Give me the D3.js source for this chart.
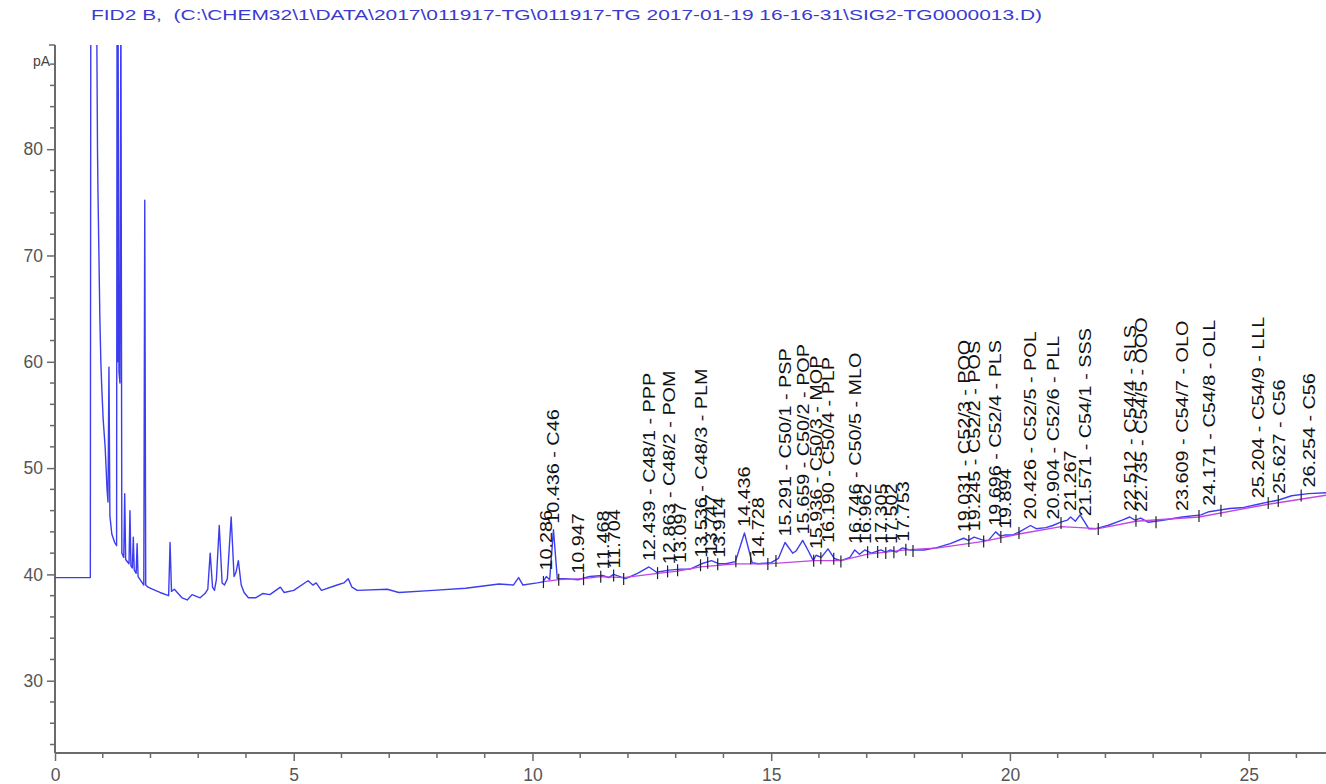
<!DOCTYPE html>
<html>
<head>
<meta charset="utf-8">
<script src="https://cdn.jsdelivr.net/npm/d3@7"></script>
<style>
  body { margin: 0; background: #fff; }
  svg { display: block; }
  text { font-family: "Liberation Sans", Arial, sans-serif; }
</style>
</head>
<body>
<svg id="chart" width="1326" height="784"></svg>
<script>
// FID2 B signal trace: retention time (min) and detector response (pA)
const traceTime = [
  0.00, 0.74, 0.75, 0.87, 0.89, 0.90, 0.92, 0.94, 0.96, 0.98,
  1.01, 1.05, 1.09, 1.11, 1.13, 1.15, 1.19, 1.25, 1.29, 1.30,
  1.31, 1.32, 1.34, 1.36, 1.38, 1.40, 1.44, 1.46, 1.48, 1.55,
  1.57, 1.59, 1.62, 1.64, 1.66, 1.70, 1.72, 1.74, 1.80, 1.86,
  1.88, 1.90, 1.95, 2.05, 2.20, 2.38, 2.41, 2.44, 2.50, 2.66,
  2.77, 2.87, 3.04, 3.14, 3.20, 3.25, 3.30, 3.34, 3.38, 3.44,
  3.50, 3.55, 3.61, 3.69, 3.75, 3.79, 3.84, 3.90, 3.96, 4.05,
  4.20, 4.35, 4.50, 4.72, 4.80, 5.00, 5.30, 5.40, 5.47, 5.58,
  5.91, 6.05, 6.14, 6.22, 6.33, 6.96, 7.20, 7.92, 8.60, 9.30,
  9.60, 9.71, 9.80, 10.10, 10.22, 10.29, 10.36, 10.44, 10.52, 10.70,
  10.95, 11.20, 11.47, 11.60, 11.70, 11.95, 12.20, 12.44, 12.60, 12.86,
  13.10, 13.30, 13.54, 13.75, 13.91, 14.05, 14.25, 14.44, 14.60, 14.73,
  15.00, 15.15, 15.29, 15.45, 15.52, 15.66, 15.78, 15.88, 15.94, 16.05,
  16.19, 16.32, 16.46, 16.65, 16.75, 16.85, 16.96, 17.10, 17.30, 17.40,
  17.50, 17.62, 17.75, 17.90, 18.20, 18.45, 18.75, 19.03, 19.13, 19.25,
  19.45, 19.55, 19.70, 19.80, 19.89, 20.05, 20.20, 20.43, 20.55, 20.75,
  20.90, 21.05, 21.20, 21.27, 21.37, 21.47, 21.57, 21.65, 21.80, 22.05,
  22.35, 22.51, 22.62, 22.74, 22.90, 23.20, 23.61, 24.00, 24.17, 24.60,
  24.90, 25.20, 25.40, 25.63, 25.90, 26.25, 26.70
];
const traceSignal = [
  39.7, 39.7, 95.0, 95.0, 80.0, 76.0, 70.0, 64.0, 60.0, 57.5,
  54.5, 52.0, 48.0, 46.8, 59.5, 45.5, 43.8, 43.0, 42.7, 95.0,
  60.0, 95.0, 59.0, 58.0, 95.0, 42.0, 41.6, 47.6, 41.4, 41.0,
  46.0, 40.8, 40.6, 43.5, 40.4, 40.1, 42.9, 39.8, 39.4, 39.0,
  75.2, 39.0, 38.8, 38.6, 38.3, 38.0, 43.0, 38.4, 38.6, 37.8,
  37.6, 38.1, 37.8, 38.2, 38.6, 42.0, 38.8, 38.5, 39.5, 44.6,
  39.2, 39.0, 39.6, 45.4, 39.8, 40.2, 41.3, 39.0, 38.3, 37.8,
  37.8, 38.2, 38.1, 38.8, 38.3, 38.5, 39.4, 39.0, 39.2, 38.5,
  39.0, 39.2, 39.6, 38.8, 38.5, 38.6, 38.3, 38.5, 38.7, 39.1,
  39.0, 39.7, 39.0, 39.2, 39.3, 39.8, 39.5, 44.2, 39.6, 39.6,
  39.5, 39.8, 39.9, 39.7, 40.0, 39.6, 40.1, 40.7, 40.2, 40.4,
  40.5, 40.5, 41.0, 41.3, 41.0, 41.0, 41.2, 43.9, 41.1, 41.0,
  41.1, 41.5, 43.0, 42.0, 42.2, 43.2, 42.2, 41.3, 41.8, 41.6,
  42.4, 41.5, 41.3, 41.6, 42.3, 41.9, 42.3, 42.0, 42.3, 42.1,
  42.3, 42.1, 42.5, 42.3, 42.3, 42.5, 42.9, 43.4, 43.2, 43.5,
  43.2, 43.2, 44.0, 43.6, 43.7, 43.7, 44.0, 44.6, 44.3, 44.4,
  44.6, 44.9, 45.1, 45.4, 45.0, 45.6, 44.9, 44.3, 44.3, 44.6,
  45.1, 45.4, 45.1, 45.3, 44.9, 45.1, 45.4, 45.6, 45.9, 46.2,
  46.3, 46.6, 46.8, 47.0, 47.4, 47.6, 47.7
];

// Integration baseline
const baselineTime   = [10.20, 10.55, 11.07, 11.43, 11.91, 12.62, 13.04, 13.52, 14.26, 14.93, 15.89, 16.46,
                        17.02, 17.82, 18.50, 19.45, 20.19, 21.07, 21.85, 22.64, 23.96, 25.41, 26.70];
const baselineSignal = [39.3, 39.5, 39.6, 39.8, 39.7, 40.1, 40.3, 40.7, 41.0, 41.0, 41.3, 41.3,
                        41.9, 42.3, 42.5, 43.1, 43.8, 44.5, 44.3, 45.0, 45.4, 46.6, 47.5];

// Peak start/stop markers
const boundaryTimes = [10.23, 10.55, 11.07, 11.43, 11.70, 11.91, 12.62, 12.83, 13.04, 13.52, 13.67, 13.88,
                       14.26, 14.57, 14.93, 15.10, 15.89, 16.04, 16.31, 16.46, 17.02, 17.23, 17.40, 17.57,
                       17.82, 17.97, 19.14, 19.45, 19.81, 20.19, 21.07, 21.85, 22.64, 23.06, 23.96, 24.42,
                       25.41, 25.62, 26.10];

// Identified peaks
const peakTimes = [10.286, 10.436, 10.947, 11.468, 11.704, 12.439, 12.863, 13.097, 13.536, 13.747,
                   13.914, 14.436, 14.728, 15.291, 15.659, 15.936, 16.190, 16.746, 16.962, 17.305,
                   17.502, 17.753, 19.031, 19.245, 19.696, 19.894, 20.426, 20.904, 21.267, 21.571,
                   22.512, 22.735, 23.609, 24.171, 25.204, 25.627, 26.254];
const peakNames = ["", "C46", "", "", "", "C48/1 - PPP", "C48/2 - POM", "", "C48/3 - PLM", "",
                   "", "", "", "C50/1 - PSP", "C50/2 - POP", "C50/3 - MOP", "C50/4 - PLP", "C50/5 - MLO", "", "",
                   "", "", "C52/3 - POO", "C52/2 - POS", "C52/4 - PLS", "", "C52/5 - POL", "C52/6 - PLL", "", "C54/1 - SSS",
                   "C54/4 - SLS", "C54/5 - OOO", "C54/7 - OLO", "C54/8 - OLL", "C54/9 - LLL", "C56", "C56"];

const xTickValues = [0, 5, 10, 15, 20, 25];
const yTickValues = [30, 40, 50, 60, 70, 80];
const titleText = "FID2 B,  (C:\\CHEM32\\1\\DATA\\2017\\011917-TG\\011917-TG 2017-01-19 16-16-31\\SIG2-TG0000013.D)";
const yUnit = "pA";

const plot = { left: 55, right: 1326, top: 45, bottom: 753 };
const svg = d3.select("#chart");

const x = d3.scaleLinear().domain([0, 26.62]).range([plot.left, plot.right]);
const y = d3.scaleLinear().domain([23.2, 89.8]).range([plot.bottom, plot.top]);

// Linear interpolation along the trace
function signalAt(t) {
  const i = d3.bisectLeft(traceTime, t);
  if (i <= 0) return traceSignal[0];
  if (i >= traceTime.length) return traceSignal[traceSignal.length - 1];
  const t0 = traceTime[i - 1], t1 = traceTime[i];
  const f = (t - t0) / (t1 - t0);
  return traceSignal[i - 1] + f * (traceSignal[i] - traceSignal[i - 1]);
}
function apexNear(t) {
  let m = signalAt(t);
  traceTime.forEach((tt, i) => { if (Math.abs(tt - t) <= 0.03) m = Math.max(m, traceSignal[i]); });
  return m;
}

svg.append("defs").append("clipPath").attr("id", "plotClip")
  .append("rect")
  .attr("x", plot.left).attr("y", plot.top)
  .attr("width", plot.right - plot.left).attr("height", plot.bottom - plot.top);

// Title
svg.append("text")
  .attr("x", 91).attr("y", 20)
  .attr("font-size", 15)
  .attr("fill", "#3a3ad2")
  .attr("textLength", 951).attr("lengthAdjust", "spacingAndGlyphs")
  .style("white-space", "pre")
  .text(titleText);

// Axes
const axisColor = "#6a6a6a";
const yAxis = svg.append("g").attr("transform", `translate(${plot.left},0)`)
  .call(d3.axisLeft(y).tickValues(yTickValues).tickSize(8).tickPadding(4).tickFormat(d3.format("d")));
const yMinor = d3.range(24, 90, 2).filter(v => v % 10 !== 0);
yAxis.selectAll(".minor").data(yMinor).enter().append("line")
  .attr("class", "minor").attr("x1", -5).attr("x2", 0)
  .attr("y1", d => y(d)).attr("y2", d => y(d));
yAxis.append("line").attr("x1", -6).attr("x2", 0).attr("y1", plot.top).attr("y2", plot.top);

const xAxis = svg.append("g").attr("transform", `translate(0,${plot.bottom})`)
  .call(d3.axisBottom(x).tickValues(xTickValues).tickSize(8).tickPadding(8).tickFormat(d3.format("d")));
const xMinor = d3.range(1, 27, 1).filter(v => v % 5 !== 0);
xAxis.selectAll(".minor").data(xMinor).enter().append("line")
  .attr("class", "minor").attr("y1", 0).attr("y2", 5)
  .attr("x1", d => x(d)).attr("x2", d => x(d));

[yAxis, xAxis].forEach(g => {
  g.select(".domain").attr("stroke", axisColor).attr("stroke-width", 2);
  g.selectAll("line").attr("stroke", axisColor).attr("stroke-width", 1.5);
  g.selectAll("text").attr("fill", "#555").attr("font-size", 17.5)
    .attr("font-family", "'Liberation Sans', Arial, sans-serif");
});
yAxis.select(".domain").attr("d", `M0,${plot.top}V${plot.bottom}`);
xAxis.select(".domain").attr("d", `M${plot.left},0H${plot.right}`);

svg.append("text")
  .attr("x", 50).attr("y", 66).attr("text-anchor", "end")
  .attr("font-size", 14).attr("fill", "#444")
  .text(yUnit);

// Signal and baseline
const plotArea = svg.append("g").attr("clip-path", "url(#plotClip)");
const line = d3.line().x(d => x(d[0])).y(d => y(d[1]));

plotArea.append("path")
  .datum(d3.zip(traceTime, traceSignal))
  .attr("fill", "none").attr("stroke", "#3d3df0").attr("stroke-width", 1.4)
  .attr("stroke-linejoin", "round")
  .attr("d", line);

plotArea.append("path")
  .datum(d3.zip(baselineTime, baselineSignal))
  .attr("fill", "none").attr("stroke", "#c046e6").attr("stroke-width", 1.3)
  .attr("d", line);

// Peak start/stop markers
plotArea.selectAll(".bnd").data(boundaryTimes).enter().append("line")
  .attr("class", "bnd")
  .attr("x1", d => x(d)).attr("x2", d => x(d))
  .attr("y1", d => y(signalAt(d)) - 5).attr("y2", d => y(signalAt(d)) + 7)
  .attr("stroke", "#222").attr("stroke-width", 1.2);

// Peak labels, rotated and set just above each apex
svg.append("g").selectAll("text").data(d3.zip(peakTimes, peakNames)).enter().append("text")
  .attr("transform", d => `translate(${x(d[0]) + 6},${y(apexNear(d[0])) - 6}) rotate(-90) scale(1.2,1)`)
  .attr("font-size", 16.5)
  .attr("fill", "#111")
  .text(d => d[0].toFixed(3) + (d[1] ? " - " + d[1] : ""));
</script>
</body>
</html>
